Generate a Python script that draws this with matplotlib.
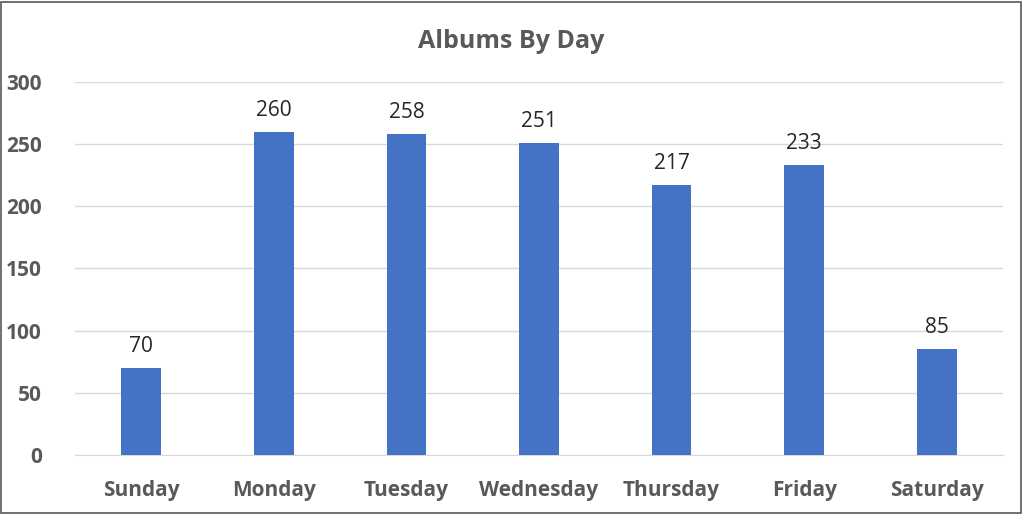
import matplotlib.pyplot as plt
from matplotlib.patches import Rectangle

days = ["Sunday", "Monday", "Tuesday", "Wednesday", "Thursday", "Friday", "Saturday"]
albums = [70, 260, 258, 251, 217, 233, 85]
yticks = [0, 50, 100, 150, 200, 250, 300]

plt.rcParams['font.family'] = ['Open Sans', 'DejaVu Sans']

fig = plt.figure(figsize=(10.23, 5.14), dpi=100)
ax = fig.add_axes([0.0733, 0.1148, 0.9072, 0.7257])

x = range(len(days))
bars = ax.bar(x, albums, width=0.3, color="#4472C4", zorder=3)
for b, v in zip(bars, albums):
    ax.text(b.get_x() + b.get_width() / 2, v + 9, str(v), ha="center", va="bottom",
            fontsize=15, color="#262626")

ax.set_xlim(-0.5, len(days) - 0.5)
ax.set_ylim(0, 300)
ax.set_yticks(yticks)
ax.set_xticks(list(x))
ax.set_xticklabels(days, fontsize=15, fontweight="bold", color="#595959")
ax.set_yticklabels([str(t) for t in yticks], fontsize=15, fontweight="bold", color="#595959")
ax.tick_params(length=0)
ax.tick_params(axis="x", pad=18)
ax.tick_params(axis="y", pad=24)
ax.grid(axis="y", color="#D9D9D9", linewidth=1, zorder=0)
for s in ["top", "right", "left"]:
    ax.spines[s].set_visible(False)
ax.spines["bottom"].set_color("#D9D9D9")

fig.text(0.5, 0.92, "Albums By Day", ha="center", va="center", fontsize=18,
         fontweight="bold", color="#595959")

fig.patches.append(Rectangle((0.001, 0.002), 0.997, 0.995, transform=fig.transFigure,
                             fill=False, edgecolor="#595959", linewidth=1.2))

fig.savefig("out.png", dpi=100)
